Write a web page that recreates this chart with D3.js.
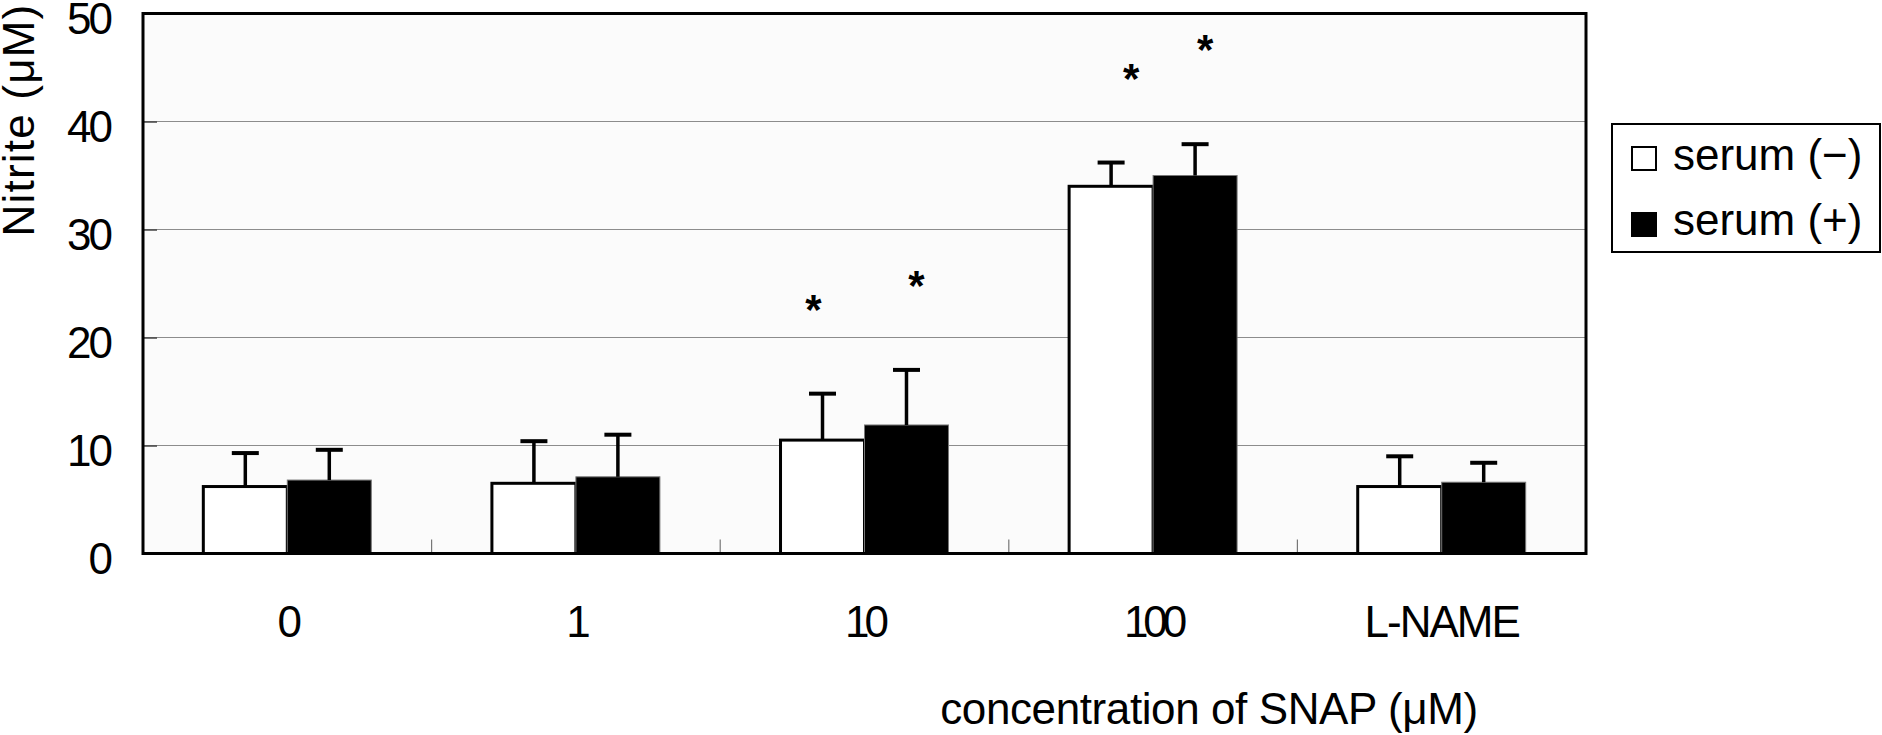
<!DOCTYPE html>
<html>
<head>
<meta charset="utf-8">
<script src="https://cdn.jsdelivr.net/npm/d3@7"></script>
<style>
  html, body { margin: 0; padding: 0; background: #ffffff; }
  svg { display: block; }
  text { font-family: "Liberation Sans", Arial, sans-serif; fill: #000; }
</style>
</head>
<body>
<svg id="chart" width="1882" height="735"></svg>
<script>
// ---- data ----
const categories = ["0", "1", "10", "100", "L-NAME"];
const seriesNames = ["serum (\u2212)", "serum (+)"];
const serumMinus = [6.2, 6.5, 10.5, 34.0, 6.2];
const serumPlus = [6.8, 7.1, 11.9, 35.0, 6.6];
const errMinus = [3.1, 3.9, 4.3, 2.2, 2.8];
const errPlus = [2.8, 3.9, 5.1, 2.9, 1.8];
const yTicks = [0, 10, 20, 30, 40, 50];
const yTitle = "Nitrite (\u03bcM)";
const xTitle = "concentration of SNAP (\u03bcM)";
// significance marks: category, series index, value position of the mark
const sigCats = ["10", "10", "100", "100"];
const sigSeries = [0, 1, 0, 1];
const sigValues = [23.4, 25.6, 44.8, 47.5];
const sigDx = [-9, 10, 20, 10];

(function () {
// ---- layout ----
const svg = d3.select("#chart");
const pLeft = 143, pRight = 1586, pTop = 13.5, pBottom = 553.5;

const x = d3.scaleBand().domain(categories).range([pLeft, pRight])
  .paddingInner(0.418).paddingOuter(0.209);
const xs = d3.scaleBand().domain([0, 1]).range([0, x.bandwidth()]).padding(0);
const y = d3.scaleLinear().domain([0, 50]).range([pBottom, pTop]);

// plot background
svg.append("rect").attr("x", pLeft).attr("y", pTop)
  .attr("width", pRight - pLeft).attr("height", pBottom - pTop)
  .attr("fill", "#fbfbfb");

// gridlines
svg.append("g").selectAll("line").data(yTicks.filter(d => d > 0 && d < 50)).join("line")
  .attr("x1", pLeft).attr("x2", pRight)
  .attr("y1", d => y(d)).attr("y2", d => y(d))
  .attr("stroke", "#8c8c8c").attr("stroke-width", 1.2);

// y axis (inward ticks)
const yAxis = svg.append("g").attr("transform", `translate(${pLeft},0)`)
  .call(d3.axisLeft(y).tickValues(yTicks).tickSize(-14).tickPadding(33).tickFormat(d3.format("d")));
yAxis.select(".domain").remove();
yAxis.selectAll(".tick line").attr("stroke", "#444").attr("stroke-width", 1.5);
yAxis.selectAll(".tick text")
  .attr("dy", 20).attr("font-size", 44).attr("letter-spacing", -3)
  .style("font-family", "'Liberation Sans', Arial, sans-serif").attr("fill", "#000");

// category boundary ticks
svg.append("g").selectAll("line").data(categories.slice(1)).join("line")
  .attr("x1", c => x(c) + x.bandwidth() / 2 - x.step() / 2)
  .attr("x2", c => x(c) + x.bandwidth() / 2 - x.step() / 2)
  .attr("y1", pBottom).attr("y2", pBottom - 14)
  .attr("stroke", "#777").attr("stroke-width", 1.2);

// bars
const rows = [];
categories.forEach((c, i) => {
  rows.push({ c, s: 0, v: serumMinus[i], e: errMinus[i] });
  rows.push({ c, s: 1, v: serumPlus[i], e: errPlus[i] });
});

const gBars = svg.append("g");
gBars.selectAll("rect.w").data(rows.filter(d => d.s === 0)).join("rect")
  .attr("class", "w")
  .attr("x", d => x(d.c) + xs(0))
  .attr("y", d => y(d.v))
  .attr("width", xs.bandwidth())
  .attr("height", d => y(0) - y(d.v))
  .attr("fill", "#ffffff").attr("stroke", "#000").attr("stroke-width", 3);
gBars.selectAll("rect.b").data(rows.filter(d => d.s === 1)).join("rect")
  .attr("class", "b")
  .attr("x", d => x(d.c) + xs(1))
  .attr("y", d => y(d.v))
  .attr("width", xs.bandwidth())
  .attr("height", d => y(0) - y(d.v))
  .attr("fill", "#000").attr("stroke", "#777").attr("stroke-width", 1);

// error bars (upper only)
const gErr = svg.append("g");
gErr.selectAll("line.v").data(rows).join("line")
  .attr("class", "v")
  .attr("x1", d => x(d.c) + xs(d.s) + xs.bandwidth() / 2)
  .attr("x2", d => x(d.c) + xs(d.s) + xs.bandwidth() / 2)
  .attr("y1", d => y(d.v)).attr("y2", d => y(d.v + d.e))
  .attr("stroke", "#000").attr("stroke-width", 3.5);
gErr.selectAll("line.c").data(rows).join("line")
  .attr("class", "c")
  .attr("x1", d => x(d.c) + xs(d.s) + xs.bandwidth() / 2 - 13.5)
  .attr("x2", d => x(d.c) + xs(d.s) + xs.bandwidth() / 2 + 13.5)
  .attr("y1", d => y(d.v + d.e)).attr("y2", d => y(d.v + d.e))
  .attr("stroke", "#000").attr("stroke-width", 4);

// significance asterisks
svg.append("g").selectAll("text").data(sigCats.map((c, i) => ({ c, s: sigSeries[i], v: sigValues[i], dx: sigDx[i] }))).join("text")
  .attr("x", d => x(d.c) + xs(d.s) + xs.bandwidth() / 2 + d.dx)
  .attr("y", d => y(d.v))
  .attr("dy", 23)
  .attr("text-anchor", "middle")
  .attr("font-size", 42).attr("font-weight", "bold")
  .text("*");

// frame
svg.append("rect").attr("x", pLeft).attr("y", pTop)
  .attr("width", pRight - pLeft).attr("height", pBottom - pTop)
  .attr("fill", "none").attr("stroke", "#000").attr("stroke-width", 3);

// x axis labels
const xAxis = svg.append("g").attr("transform", `translate(0,${pBottom})`)
  .call(d3.axisBottom(x).tickSize(0));
xAxis.select(".domain").remove();
xAxis.selectAll(".tick text")
  .attr("y", 83).attr("dy", 0).attr("font-size", 44)
  .attr("letter-spacing", d => d === "L-NAME" ? -2 : -5)
  .style("font-family", "'Liberation Sans', Arial, sans-serif").attr("fill", "#000");

// axis titles
svg.append("text")
  .attr("transform", "translate(33.5,120) rotate(-90)")
  .attr("text-anchor", "middle").attr("font-size", 44).attr("letter-spacing", 1.2)
  .text(yTitle);
svg.append("text")
  .attr("x", 1209).attr("y", 724)
  .attr("text-anchor", "middle").attr("font-size", 44).attr("letter-spacing", -0.4)
  .text(xTitle);

// legend
const lg = svg.append("g");
lg.append("rect").attr("x", 1612).attr("y", 124).attr("width", 268).attr("height", 128)
  .attr("fill", "#fff").attr("stroke", "#000").attr("stroke-width", 2);
const legendFill = ["#ffffff", "#000000"];
lg.selectAll("rect.sw").data(seriesNames).join("rect")
  .attr("class", "sw")
  .attr("x", 1632).attr("y", (d, i) => 147 + i * 66)
  .attr("width", 24).attr("height", 23)
  .attr("fill", (d, i) => legendFill[i])
  .attr("stroke", "#000").attr("stroke-width", 2);
lg.selectAll("text").data(seriesNames).join("text")
  .attr("x", 1673).attr("y", (d, i) => 170 + i * 65)
  .attr("font-size", 44)
  .text(d => d);
})();
</script>
</body>
</html>
